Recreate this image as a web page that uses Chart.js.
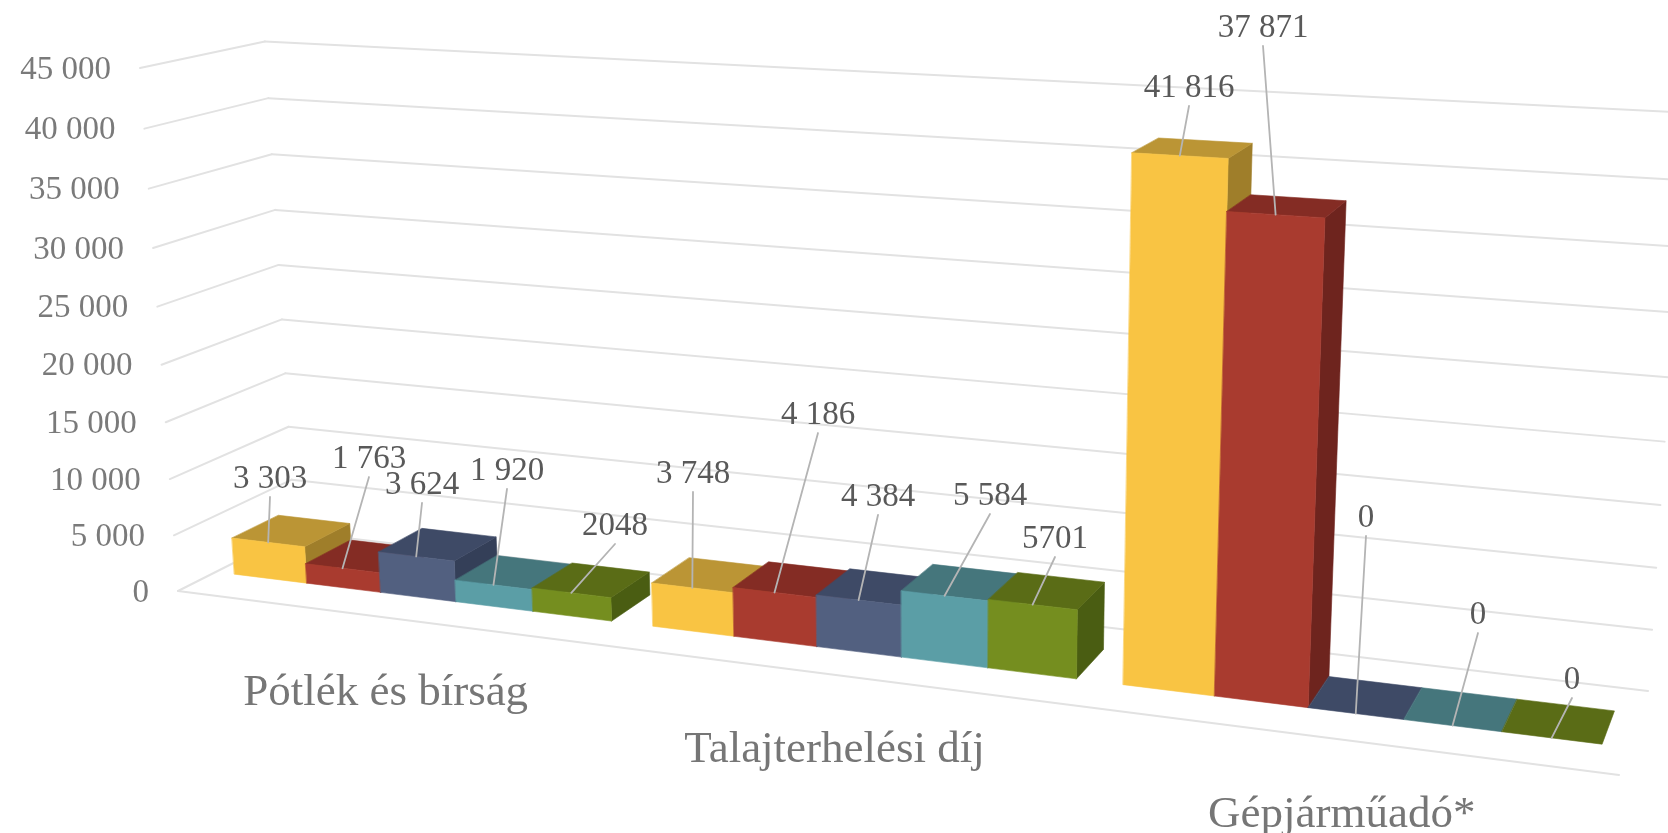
<!DOCTYPE html>
<html><head><meta charset="utf-8">
<style>html,body{margin:0;padding:0;background:#fff}#w{width:1668px;height:833px}</style>
<script src="https://cdn.jsdelivr.net/npm/chart.js@4"></script>
</head><body><div id="w"><canvas id="c"></canvas></div>
<script>
const categories = ["Pótlék és bírság", "Talajterhelési díj", "Gépjárműadó*"];
const seriesA = [3303, 3748, 41816];
const seriesB = [1763, 4186, 37871];
const seriesC = [3624, 4384, 0];
const seriesD = [1920, 5584, 0];
const seriesE = [2048, 5701, 0];
const axisMax = 45000, axisStep = 5000;

// per-series callout text centres (manually placed callouts in the source chart)
const calloutsA = [[270,476],[693,471],[1189,85]];
const calloutsB = [[369,456],[818,412],[1263,25]];
const calloutsC = [[422,482],[878,494],[1366,515]];
const calloutsD = [[507,468],[990,493],[1478,612]];
const calloutsE = [[615,523],[1055,536],[1572,677]];

const faces = [
  {front:'#F9C443', top:'#BB9535', side:'#9F7E2A'},
  {front:'#A93B2F', top:'#842C24', side:'#6E241E'},
  {front:'#526080', top:'#3E4A66', side:'#343F58'},
  {front:'#5B9EA6', top:'#45767C', side:'#3A6268'},
  {front:'#758E1F', top:'#5A6C16', side:'#4A5D12'}
];
const SERIF = '"Liberation Serif", serif';
const Z0 = 0.31, Z1 = 0.71;

// projective camera: columns for chart-width, value-height, depth, origin
const CAM = {
  u:[1169.5,54,-0.1677], v:[-44.6,-526.2,-0.047], z:[137.2,-22.5,0.0686], o:[178,591,1]
};
function project(u,v,z){
  const p = i => CAM.u[i]*u + CAM.v[i]*v + CAM.z[i]*z + CAM.o[i];
  const w = p(2);
  return [p(0)/w, p(1)/w];
}
const groupFmt = n => String(n).replace(/\B(?=(\d{3})+(?!\d))/g,' ');

const plugin3d = {
  id:'perspective',
  beforeDatasetsDraw(chart){
    const ctx = chart.ctx, A = chart.chartArea, xs = chart.scales.x, ys = chart.scales.y;
    const U = px => (px - A.left)/(A.right - A.left);
    const V = py => (A.bottom - py)/(A.bottom - A.top);
    const poly = (pts,col) => {
      ctx.beginPath();
      pts.forEach((p,i)=> i?ctx.lineTo(p[0],p[1]):ctx.moveTo(p[0],p[1]));
      ctx.closePath();
      ctx.fillStyle = col; ctx.strokeStyle = col; ctx.lineWidth = .6;
      ctx.fill(); ctx.stroke();
    };
    const line = (a,b,col,w) => {
      ctx.beginPath(); ctx.moveTo(a[0],a[1]); ctx.lineTo(b[0],b[1]);
      ctx.strokeStyle = col; ctx.lineWidth = w; ctx.stroke();
    };
    // gridlines + value axis labels
    ctx.save();
    ctx.lineCap = 'round';
    ys.ticks.forEach(t => {
      const v = V(ys.getPixelForValue(t.value));
      const fl = project(0,v,0), bl = project(0,v,1), br = project(1,v,1);
      line(fl,bl,'#E2E2E2',2); line(bl,br,'#E2E2E2',2);
      ctx.fillStyle = '#7A7A7A';
      ctx.font = '33px '+SERIF;
      ctx.textAlign = 'right'; ctx.textBaseline = 'middle';
      ctx.fillText(groupFmt(t.value), fl[0]-29, fl[1]+2);
    });
    line(project(0,0,0),project(1,0,0),'#E2E2E2',2);
    // category labels
    ctx.fillStyle = '#767676';
    ctx.font = '45px '+SERIF;
    ctx.textAlign='center'; ctx.textBaseline='middle';
    categories.forEach((c,i)=>{
      const p = project(U(xs.getPixelForValue(i)),0,0);
      ctx.fillText(c,p[0]+2,p[1]+76);
    });
    // bars, left to right so nearer right-hand columns paint over
    const anchors = [];
    categories.forEach((c,ci)=>{
      chart.data.datasets.forEach((ds,si)=>{
        const b = chart.getDatasetMeta(si).data[ci];
        const u0 = U(b.x - b.width/2), u1 = U(b.x + b.width/2), h = V(b.y);
        const f = faces[si];
        if (h > 0) {
          poly([project(u1,0,Z0),project(u1,0,Z1),project(u1,h,Z1),project(u1,h,Z0)],f.side);
        }
        poly([project(u0,h,Z0),project(u1,h,Z0),project(u1,h,Z1),project(u0,h,Z1)],f.top);
        if (h > 0) {
          poly([project(u0,0,Z0),project(u1,0,Z0),project(u1,h,Z0),project(u0,h,Z0)],f.front);
        }
        anchors.push({p:project(U(b.x),h,Z0),ds,ci});
      });
    });
    // callouts
    anchors.forEach(a=>{
      const pos = a.ds.callouts[a.ci];
      line([pos[0],pos[1]+21],a.p,'#B4B4B4',1.8);
    });
    anchors.forEach(a=>{
      const pos = a.ds.callouts[a.ci];
      ctx.fillStyle='#595959';
      ctx.font='33px '+SERIF;
      ctx.textAlign='center'; ctx.textBaseline='middle';
      const v = a.ds.data[a.ci];
      ctx.fillText(a.ds.plainLabels ? String(v) : groupFmt(v),pos[0],pos[1]+3);
    });
    ctx.restore();
    return false;
  }
};

new Chart(document.getElementById('c'),{
  type:'bar',
  data:{labels:categories,datasets:[
    {label:'A',data:seriesA,callouts:calloutsA,backgroundColor:faces[0].front},
    {label:'B',data:seriesB,callouts:calloutsB,backgroundColor:faces[1].front},
    {label:'C',data:seriesC,callouts:calloutsC,backgroundColor:faces[2].front},
    {label:'D',data:seriesD,callouts:calloutsD,backgroundColor:faces[3].front},
    {label:'E',data:seriesE,callouts:calloutsE,backgroundColor:faces[4].front,plainLabels:true}
  ]},
  options:{
    responsive:true,maintainAspectRatio:false,animation:false,
    layout:{padding:0},
    datasets:{bar:{categoryPercentage:0.906,barPercentage:1}},
    plugins:{legend:{display:false},tooltip:{enabled:false}},
    scales:{
      x:{display:false},
      y:{display:false,min:0,max:axisMax,ticks:{stepSize:axisStep}}
    }
  },
  plugins:[plugin3d]
});
</script></body></html>
